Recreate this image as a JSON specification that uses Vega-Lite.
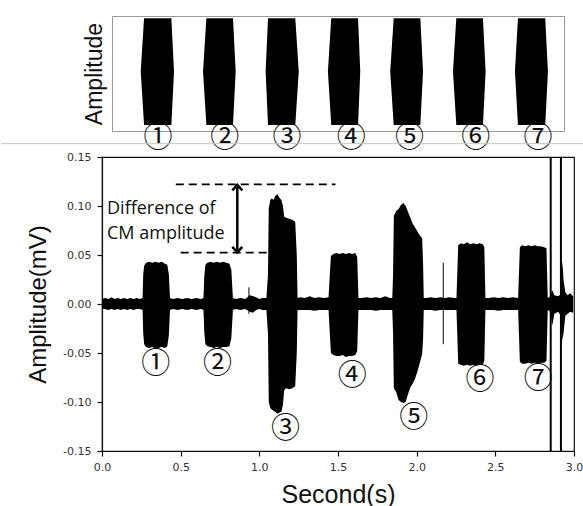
{
  "$schema": "https://vega.github.io/schema/vega-lite/v6.json",
  "background": "white",
  "padding": {"left": 0, "top": 15, "right": 0, "bottom": 0},
  "spacing": 26,
  "bounds": "flush",
  "center": true,
  "config": {
    "view": {"stroke": null},
    "axis": {"grid": false, "titleFont": "Liberation Sans", "titleFontWeight": "normal", "titleColor": "#111", "labelFont": "DejaVu Sans", "labelColor": "#333", "labelFontSize": 11, "tickColor": "#111", "domainColor": "#111", "domainWidth": 1.2, "tickWidth": 1.2, "tickSize": 5}
  },
  "datasets": {
    "stim": [
      {"blob": 1, "t": 0.233, "hi": 0, "lo": 0}, {"blob": 1, "t": 0.254, "hi": 0.96, "lo": -0.96}, {"blob": 1, "t": 0.427, "hi": 0.96, "lo": -0.96}, {"blob": 1, "t": 0.444, "hi": 0, "lo": 0},
      {"blob": 2, "t": 0.628, "hi": 0, "lo": 0}, {"blob": 2, "t": 0.649, "hi": 0.96, "lo": -0.96}, {"blob": 2, "t": 0.818, "hi": 0.96, "lo": -0.96}, {"blob": 2, "t": 0.835, "hi": 0, "lo": 0},
      {"blob": 3, "t": 1.025, "hi": 0, "lo": 0}, {"blob": 3, "t": 1.040, "hi": 0.96, "lo": -0.96}, {"blob": 3, "t": 1.213, "hi": 0.96, "lo": -0.96}, {"blob": 3, "t": 1.235, "hi": 0, "lo": 0},
      {"blob": 4, "t": 1.420, "hi": 0, "lo": 0}, {"blob": 4, "t": 1.441, "hi": 0.96, "lo": -0.96}, {"blob": 4, "t": 1.611, "hi": 0.96, "lo": -0.96}, {"blob": 4, "t": 1.625, "hi": 0, "lo": 0},
      {"blob": 5, "t": 1.815, "hi": 0, "lo": 0}, {"blob": 5, "t": 1.837, "hi": 0.96, "lo": -0.96}, {"blob": 5, "t": 2.006, "hi": 0.96, "lo": -0.96}, {"blob": 5, "t": 2.023, "hi": 0, "lo": 0},
      {"blob": 6, "t": 2.213, "hi": 0, "lo": 0}, {"blob": 6, "t": 2.234, "hi": 0.96, "lo": -0.96}, {"blob": 6, "t": 2.403, "hi": 0.96, "lo": -0.96}, {"blob": 6, "t": 2.420, "hi": 0, "lo": 0},
      {"blob": 7, "t": 2.606, "hi": 0, "lo": 0}, {"blob": 7, "t": 2.625, "hi": 0.96, "lo": -0.96}, {"blob": 7, "t": 2.798, "hi": 0.96, "lo": -0.96}, {"blob": 7, "t": 2.815, "hi": 0, "lo": 0}
    ],
    "stimlab": [
      {"t": 0.342, "y": -1.195, "label": "①"}, {"t": 0.765, "y": -1.195, "label": "②"}, {"t": 1.160, "y": -1.195, "label": "③"},
      {"t": 1.568, "y": -1.195, "label": "④"}, {"t": 1.938, "y": -1.195, "label": "⑤"}, {"t": 2.357, "y": -1.195, "label": "⑥"}, {"t": 2.752, "y": -1.195, "label": "⑦"}
    ],
    "sep": [{"a": -0.653, "b": 3.044, "y": -1.298}],
    "sig": [
      {"t": 0.00, "hi": 0.005, "lo": -0.005}, {"t": 0.02, "hi": 0.006, "lo": -0.005}, {"t": 0.04, "hi": 0.005, "lo": -0.006}, {"t": 0.06, "hi": 0.007, "lo": -0.005}, {"t": 0.08, "hi": 0.005, "lo": -0.006}, {"t": 0.10, "hi": 0.006, "lo": -0.005}, {"t": 0.12, "hi": 0.005, "lo": -0.006}, {"t": 0.14, "hi": 0.006, "lo": -0.005}, {"t": 0.16, "hi": 0.005, "lo": -0.006}, {"t": 0.18, "hi": 0.006, "lo": -0.005}, {"t": 0.20, "hi": 0.005, "lo": -0.006}, {"t": 0.22, "hi": 0.006, "lo": -0.005}, {"t": 0.24, "hi": 0.005, "lo": -0.005}, {"t": 0.258, "hi": 0.006, "lo": -0.006},
      {"t": 0.262, "hi": 0.030, "lo": -0.030}, {"t": 0.268, "hi": 0.039, "lo": -0.041}, {"t": 0.28, "hi": 0.042, "lo": -0.044}, {"t": 0.30, "hi": 0.043, "lo": -0.045}, {"t": 0.32, "hi": 0.042, "lo": -0.044}, {"t": 0.34, "hi": 0.043, "lo": -0.046}, {"t": 0.36, "hi": 0.042, "lo": -0.045}, {"t": 0.38, "hi": 0.043, "lo": -0.044}, {"t": 0.40, "hi": 0.041, "lo": -0.045}, {"t": 0.415, "hi": 0.040, "lo": -0.043}, {"t": 0.425, "hi": 0.030, "lo": -0.032}, {"t": 0.432, "hi": 0.006, "lo": -0.006},
      {"t": 0.45, "hi": 0.005, "lo": -0.005}, {"t": 0.48, "hi": 0.006, "lo": -0.006}, {"t": 0.51, "hi": 0.005, "lo": -0.005}, {"t": 0.54, "hi": 0.006, "lo": -0.006}, {"t": 0.57, "hi": 0.005, "lo": -0.005}, {"t": 0.60, "hi": 0.006, "lo": -0.006}, {"t": 0.63, "hi": 0.005, "lo": -0.005}, {"t": 0.645, "hi": 0.006, "lo": -0.006},
      {"t": 0.650, "hi": 0.028, "lo": -0.028}, {"t": 0.657, "hi": 0.040, "lo": -0.041}, {"t": 0.67, "hi": 0.042, "lo": -0.043}, {"t": 0.69, "hi": 0.043, "lo": -0.044}, {"t": 0.71, "hi": 0.042, "lo": -0.045}, {"t": 0.73, "hi": 0.043, "lo": -0.044}, {"t": 0.75, "hi": 0.042, "lo": -0.045}, {"t": 0.77, "hi": 0.043, "lo": -0.044}, {"t": 0.79, "hi": 0.042, "lo": -0.044}, {"t": 0.81, "hi": 0.041, "lo": -0.043}, {"t": 0.822, "hi": 0.035, "lo": -0.035}, {"t": 0.832, "hi": 0.006, "lo": -0.006},
      {"t": 0.85, "hi": 0.005, "lo": -0.005}, {"t": 0.88, "hi": 0.006, "lo": -0.006}, {"t": 0.91, "hi": 0.005, "lo": -0.005}, {"t": 0.94, "hi": 0.009, "lo": -0.008}, {"t": 0.96, "hi": 0.008, "lo": -0.009}, {"t": 0.98, "hi": 0.007, "lo": -0.006}, {"t": 1.00, "hi": 0.005, "lo": -0.005}, {"t": 1.02, "hi": 0.006, "lo": -0.006}, {"t": 1.045, "hi": 0.006, "lo": -0.006},
      {"t": 1.055, "hi": 0.030, "lo": -0.030}, {"t": 1.06, "hi": 0.098, "lo": -0.100}, {"t": 1.07, "hi": 0.106, "lo": -0.106}, {"t": 1.08, "hi": 0.108, "lo": -0.108}, {"t": 1.09, "hi": 0.106, "lo": -0.109}, {"t": 1.10, "hi": 0.110, "lo": -0.110}, {"t": 1.115, "hi": 0.112, "lo": -0.112}, {"t": 1.125, "hi": 0.109, "lo": -0.111}, {"t": 1.14, "hi": 0.106, "lo": -0.110}, {"t": 1.15, "hi": 0.100, "lo": -0.103}, {"t": 1.158, "hi": 0.089, "lo": -0.088}, {"t": 1.17, "hi": 0.088, "lo": -0.086}, {"t": 1.19, "hi": 0.087, "lo": -0.087}, {"t": 1.21, "hi": 0.086, "lo": -0.086}, {"t": 1.228, "hi": 0.084, "lo": -0.084}, {"t": 1.238, "hi": 0.050, "lo": -0.050}, {"t": 1.243, "hi": 0.006, "lo": -0.006},
      {"t": 1.26, "hi": 0.007, "lo": -0.006}, {"t": 1.29, "hi": 0.006, "lo": -0.006}, {"t": 1.32, "hi": 0.008, "lo": -0.006}, {"t": 1.35, "hi": 0.006, "lo": -0.007}, {"t": 1.38, "hi": 0.007, "lo": -0.006}, {"t": 1.41, "hi": 0.006, "lo": -0.006}, {"t": 1.44, "hi": 0.007, "lo": -0.006},
      {"t": 1.448, "hi": 0.030, "lo": -0.030}, {"t": 1.455, "hi": 0.049, "lo": -0.050}, {"t": 1.47, "hi": 0.051, "lo": -0.052}, {"t": 1.49, "hi": 0.052, "lo": -0.053}, {"t": 1.51, "hi": 0.051, "lo": -0.053}, {"t": 1.53, "hi": 0.052, "lo": -0.052}, {"t": 1.55, "hi": 0.051, "lo": -0.054}, {"t": 1.57, "hi": 0.052, "lo": -0.053}, {"t": 1.59, "hi": 0.051, "lo": -0.053}, {"t": 1.61, "hi": 0.052, "lo": -0.052}, {"t": 1.622, "hi": 0.048, "lo": -0.048}, {"t": 1.63, "hi": 0.006, "lo": -0.006},
      {"t": 1.65, "hi": 0.006, "lo": -0.006}, {"t": 1.68, "hi": 0.007, "lo": -0.006}, {"t": 1.71, "hi": 0.006, "lo": -0.006}, {"t": 1.74, "hi": 0.007, "lo": -0.007}, {"t": 1.77, "hi": 0.006, "lo": -0.006}, {"t": 1.80, "hi": 0.008, "lo": -0.006}, {"t": 1.83, "hi": 0.006, "lo": -0.006}, {"t": 1.845, "hi": 0.006, "lo": -0.006},
      {"t": 1.85, "hi": 0.030, "lo": -0.030}, {"t": 1.855, "hi": 0.090, "lo": -0.086}, {"t": 1.87, "hi": 0.095, "lo": -0.090}, {"t": 1.885, "hi": 0.097, "lo": -0.098}, {"t": 1.90, "hi": 0.101, "lo": -0.100}, {"t": 1.915, "hi": 0.103, "lo": -0.101}, {"t": 1.93, "hi": 0.100, "lo": -0.100}, {"t": 1.945, "hi": 0.094, "lo": -0.092}, {"t": 1.96, "hi": 0.088, "lo": -0.085}, {"t": 1.975, "hi": 0.082, "lo": -0.081}, {"t": 1.99, "hi": 0.078, "lo": -0.076}, {"t": 2.005, "hi": 0.074, "lo": -0.069}, {"t": 2.02, "hi": 0.070, "lo": -0.060}, {"t": 2.035, "hi": 0.067, "lo": -0.051}, {"t": 2.041, "hi": 0.040, "lo": -0.035}, {"t": 2.045, "hi": 0.006, "lo": -0.006},
      {"t": 2.06, "hi": 0.006, "lo": -0.006}, {"t": 2.09, "hi": 0.007, "lo": -0.006}, {"t": 2.12, "hi": 0.006, "lo": -0.007}, {"t": 2.15, "hi": 0.007, "lo": -0.006}, {"t": 2.18, "hi": 0.006, "lo": -0.006}, {"t": 2.21, "hi": 0.007, "lo": -0.006}, {"t": 2.24, "hi": 0.006, "lo": -0.006}, {"t": 2.253, "hi": 0.006, "lo": -0.006},
      {"t": 2.258, "hi": 0.030, "lo": -0.030}, {"t": 2.264, "hi": 0.060, "lo": -0.061}, {"t": 2.28, "hi": 0.062, "lo": -0.062}, {"t": 2.30, "hi": 0.061, "lo": -0.063}, {"t": 2.32, "hi": 0.063, "lo": -0.062}, {"t": 2.34, "hi": 0.061, "lo": -0.063}, {"t": 2.36, "hi": 0.062, "lo": -0.062}, {"t": 2.38, "hi": 0.061, "lo": -0.063}, {"t": 2.40, "hi": 0.062, "lo": -0.062}, {"t": 2.42, "hi": 0.061, "lo": -0.062}, {"t": 2.43, "hi": 0.058, "lo": -0.058}, {"t": 2.437, "hi": 0.006, "lo": -0.006},
      {"t": 2.46, "hi": 0.006, "lo": -0.006}, {"t": 2.49, "hi": 0.007, "lo": -0.006}, {"t": 2.52, "hi": 0.006, "lo": -0.007}, {"t": 2.55, "hi": 0.007, "lo": -0.006}, {"t": 2.58, "hi": 0.006, "lo": -0.006}, {"t": 2.61, "hi": 0.007, "lo": -0.006}, {"t": 2.645, "hi": 0.006, "lo": -0.006},
      {"t": 2.65, "hi": 0.030, "lo": -0.030}, {"t": 2.656, "hi": 0.058, "lo": -0.059}, {"t": 2.67, "hi": 0.060, "lo": -0.061}, {"t": 2.69, "hi": 0.059, "lo": -0.061}, {"t": 2.71, "hi": 0.060, "lo": -0.060}, {"t": 2.73, "hi": 0.059, "lo": -0.061}, {"t": 2.75, "hi": 0.060, "lo": -0.060}, {"t": 2.77, "hi": 0.059, "lo": -0.061}, {"t": 2.79, "hi": 0.059, "lo": -0.060}, {"t": 2.81, "hi": 0.058, "lo": -0.060}, {"t": 2.825, "hi": 0.057, "lo": -0.058}, {"t": 2.833, "hi": 0.006, "lo": -0.006},
      {"t": 2.85, "hi": 0.008, "lo": -0.008}, {"t": 2.862, "hi": 0.014, "lo": -0.022}, {"t": 2.875, "hi": 0.009, "lo": -0.010}, {"t": 2.90, "hi": 0.008, "lo": -0.008}, {"t": 2.915, "hi": 0.010, "lo": -0.012}, {"t": 2.922, "hi": 0.030, "lo": -0.025}, {"t": 2.927, "hi": 0.044, "lo": -0.038}, {"t": 2.933, "hi": 0.025, "lo": -0.030}, {"t": 2.945, "hi": 0.012, "lo": -0.012}, {"t": 2.96, "hi": 0.009, "lo": -0.010}, {"t": 2.975, "hi": 0.011, "lo": -0.008}, {"t": 2.995, "hi": 0.008, "lo": -0.009}
    ],
    "thinspikes": [{"t": 0.934, "y1": -0.010, "y2": 0.017}, {"t": 2.169, "y1": -0.041, "y2": 0.042}],
    "lines": [{"t": 2.852, "y1": -0.15, "y2": 0.15}, {"t": 2.917, "y1": -0.15, "y2": 0.15}],
    "dash": [{"x1": 0.469, "x2": 1.484, "y": 0.1221}, {"x1": 0.50, "x2": 1.05, "y": 0.0524}],
    "shaft": [{"t": 0.86, "y1": 0.0535, "y2": 0.1205}],
    "heads": [{"t": 0.86, "y": 0.1215, "dir": "up"}, {"t": 0.86, "y": 0.0527, "dir": "down"}],
    "note": [{"t": 0.032, "y": 0.097, "label": "Difference of"}, {"t": 0.032, "y": 0.0714, "label": "CM amplitude"}],
    "siglab": [
      {"t": 0.342, "y": -0.0616, "label": "①"}, {"t": 0.734, "y": -0.0616, "label": "②"}, {"t": 1.167, "y": -0.128, "label": "③"},
      {"t": 1.590, "y": -0.0735, "label": "④"}, {"t": 1.981, "y": -0.1167, "label": "⑤"}, {"t": 2.403, "y": -0.0779, "label": "⑥"}, {"t": 2.773, "y": -0.0769, "label": "⑦"}
    ]
  },
  "vconcat": [
    {
      "width": 452,
      "height": 115,
      "view": {"stroke": "#9a9a9a", "strokeWidth": 1},
      "layer": [
        {
          "data": {"name": "stim"},
          "mark": {"type": "area", "color": "black", "opacity": 1},
          "encoding": {
            "x": {"field": "t", "type": "quantitative", "scale": {"domain": [0.0507, 2.917], "nice": false, "zero": false}, "axis": null},
            "y": {"field": "hi", "type": "quantitative", "scale": {"domain": [-1.07, 1.0], "nice": false, "zero": false},
                  "axis": {"title": "Amplitude", "ticks": false, "labels": false, "domain": false, "titlePadding": 6, "titleFontSize": 23}},
            "y2": {"field": "lo"},
            "detail": {"field": "blob", "type": "nominal"}
          }
        },
        {
          "mark": {"type": "rule", "color": "#777", "strokeWidth": 1},
          "encoding": {"y": {"datum": 0, "type": "quantitative"}}
        },
        {
          "data": {"name": "stimlab"},
          "mark": {"type": "text", "font": "Noto Sans CJK JP", "fontSize": 29, "baseline": "middle", "align": "center", "color": "#111"},
          "encoding": {
            "x": {"field": "t", "type": "quantitative"},
            "y": {"field": "y", "type": "quantitative"},
            "text": {"field": "label"}
          }
        },
        {
          "data": {"name": "sep"},
          "mark": {"type": "rule", "color": "#c4c4c4", "strokeWidth": 1, "clip": false},
          "encoding": {
            "x": {"field": "a", "type": "quantitative"},
            "x2": {"field": "b"},
            "y": {"field": "y", "type": "quantitative"}
          }
        }
      ]
    },
    {
      "width": 472,
      "height": 294,
      "view": {"stroke": "#111", "strokeWidth": 1.2},
      "layer": [
        {
          "data": {"name": "sig"},
          "mark": {"type": "area", "color": "black", "opacity": 1},
          "encoding": {
            "x": {"field": "t", "type": "quantitative", "scale": {"domain": [0, 3], "nice": false, "zero": false},
                  "axis": {"title": "Second(s)", "values": [0, 0.5, 1, 1.5, 2, 2.5, 3], "format": ".1f", "labelFlush": false, "labelPadding": 5, "titleFontSize": 25, "titlePadding": 10}},
            "y": {"field": "hi", "type": "quantitative", "scale": {"domain": [-0.15, 0.15], "nice": false, "zero": false},
                  "axis": {"title": "Amplitude(mV)", "values": [-0.15, -0.1, -0.05, 0, 0.05, 0.1, 0.15], "format": ".2f", "labelExpr": "replace(datum.label, '\u2212', '-')", "labelPadding": 6, "titleFontSize": 24, "titlePadding": 12}},
            "y2": {"field": "lo"}
          }
        },
        {
          "data": {"name": "thinspikes"},
          "mark": {"type": "rule", "color": "black", "strokeWidth": 1},
          "encoding": {"x": {"field": "t", "type": "quantitative"}, "y": {"field": "y1", "type": "quantitative"}, "y2": {"field": "y2"}}
        },
        {
          "data": {"name": "lines"},
          "mark": {"type": "rule", "color": "black", "strokeWidth": 2},
          "encoding": {"x": {"field": "t", "type": "quantitative"}, "y": {"field": "y1", "type": "quantitative"}, "y2": {"field": "y2"}}
        },
        {
          "data": {"name": "dash"},
          "mark": {"type": "rule", "color": "black", "strokeWidth": 1.6, "strokeDash": [8, 5]},
          "encoding": {"x": {"field": "x1", "type": "quantitative"}, "x2": {"field": "x2"}, "y": {"field": "y", "type": "quantitative"}}
        },
        {
          "data": {"name": "shaft"},
          "mark": {"type": "rule", "color": "black", "strokeWidth": 2.5},
          "encoding": {"x": {"field": "t", "type": "quantitative"}, "y": {"field": "y1", "type": "quantitative"}, "y2": {"field": "y2"}}
        },
        {
          "data": {"name": "heads"},
          "mark": {"type": "point", "filled": false, "color": "black", "strokeWidth": 2.5, "size": 100, "opacity": 1},
          "encoding": {
            "x": {"field": "t", "type": "quantitative"},
            "y": {"field": "y", "type": "quantitative"},
            "shape": {"field": "dir", "type": "nominal", "scale": {"domain": ["up", "down"], "range": ["M-1,1.1L0,0L1,1.1", "M-1,-1.1L0,0L1,-1.1"]}, "legend": null}
          }
        },
        {
          "data": {"name": "note"},
          "mark": {"type": "text", "font": "Open Sans", "fontSize": 18, "align": "left", "baseline": "middle", "color": "#111"},
          "encoding": {"x": {"field": "t", "type": "quantitative"}, "y": {"field": "y", "type": "quantitative"}, "text": {"field": "label"}}
        },
        {
          "data": {"name": "siglab"},
          "mark": {"type": "text", "font": "Noto Sans CJK JP", "fontSize": 29, "align": "center", "baseline": "middle", "color": "#111"},
          "encoding": {"x": {"field": "t", "type": "quantitative"}, "y": {"field": "y", "type": "quantitative"}, "text": {"field": "label"}}
        }
      ]
    }
  ]
}
